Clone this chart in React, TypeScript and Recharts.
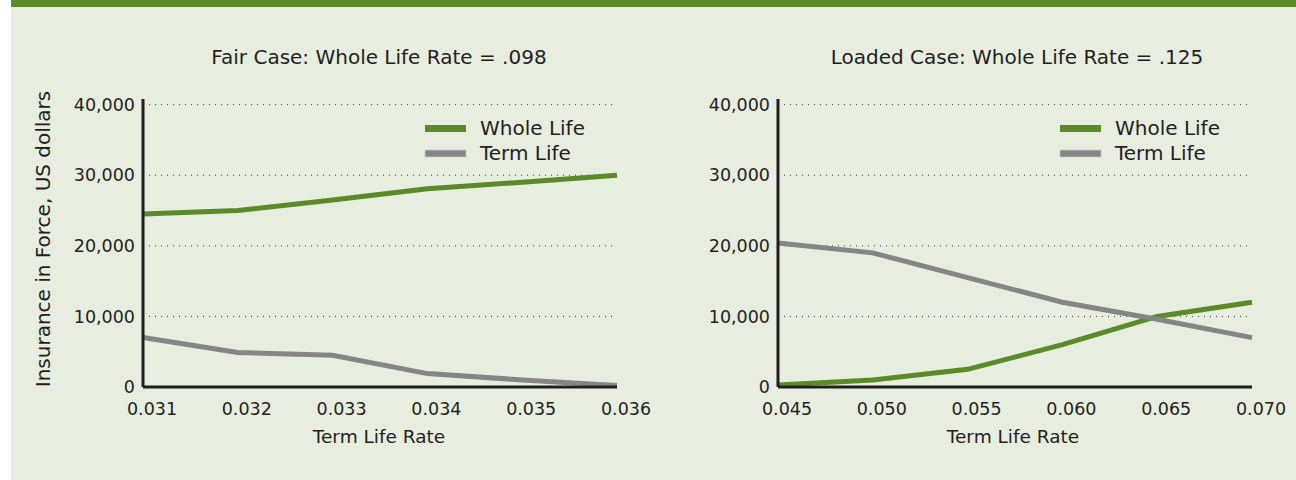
import { LineChart, Line, XAxis, YAxis, CartesianGrid, Legend } from "recharts";

const fairRates = ["0.031", "0.032", "0.033", "0.034", "0.035", "0.036"];
const fairWhole = [24500, 25000, 26500, 28100, 29000, 30000];
const fairTerm = [7000, 4900, 4500, 1900, 1000, 200];

const loadedRates = ["0.045", "0.050", "0.055", "0.060", "0.065", "0.070"];
const loadedWhole = [300, 1000, 2500, 6000, 10000, 12000];
const loadedTerm = [20400, 19000, 15500, 12000, 9600, 7000];

const yTicks = [0, 10000, 20000, 30000, 40000];
const legendOrder = ["whole", "term"];

const GREEN = "#5b8a28";
const GRAY = "#858585";
const INK = "#231f20";
const PANEL = "#e7eddf";
const FONT = "'DejaVu Sans', sans-serif";

const buildRows = (rates: string[], whole: number[], term: number[]) =>
  rates.map((rate, i) => ({ rate, whole: whole[i], term: term[i] }));

function LegendBox({ payload }: any) {
  const items = [...(payload || [])].sort(
    (a: any, b: any) => legendOrder.indexOf(a.dataKey) - legendOrder.indexOf(b.dataKey)
  );
  return (
    <svg width={200} height={55} style={{ display: "block", overflow: "visible" }}>
      {items.map((p: any, i: number) => (
        <g key={p.value}>
          <rect
            x={0}
            y={10 + i * 25}
            width={41}
            height={7}
            fill={p.color}
            stroke={p.dataKey === "term" ? "#c9c9c9" : "none"}
            strokeWidth={0.8}
          />
          <text x={55} y={19.5 + i * 25} fontSize={20} fill={INK} fontFamily={FONT}>
            {p.value}
          </text>
        </g>
      ))}
    </svg>
  );
}

interface PanelProps {
  rows: { rate: string; whole: number; term: number }[];
  left: number;
  width: number;
  yAxisWidth: number;
  marginRight: number;
  legendLeft: number;
}

function Panel({ rows, left, width, yAxisWidth, marginRight, legendLeft }: PanelProps) {
  return (
    <div style={{ position: "absolute", left, top: 0 }}>
      <LineChart
        width={width}
        height={480}
        data={rows}
        margin={{ top: 99, right: marginRight, bottom: 63, left: 0 }}
        style={{ overflow: "visible" }}
      >
        <CartesianGrid
          vertical={false}
          syncWithTicks
          stroke="#3a3a3a"
          strokeDasharray="1 5"
          strokeWidth={1}
        />
        <XAxis
          dataKey="rate"
          type="category"
          interval={0}
          height={30}
          tickSize={0}
          tickMargin={16}
          tickLine={false}
          axisLine={{ stroke: INK, strokeWidth: 3 }}
          tick={{ fill: INK, fontSize: 17.5, dx: 9 }}
        />
        <YAxis
          domain={[0, 40800]}
          ticks={yTicks}
          width={yAxisWidth}
          tickSize={0}
          tickMargin={8}
          tickLine={false}
          axisLine={{ stroke: INK, strokeWidth: 3 }}
          tick={{ fill: INK, fontSize: 17.5 }}
          tickFormatter={(v: number) => v.toLocaleString("en-US")}
        />
        <Legend
          layout="vertical"
          align="center"
          verticalAlign="middle"
          content={<LegendBox />}
          wrapperStyle={{ left: legendLeft, top: 115, width: 200, height: 55 }}
        />
        <Line
          type="linear"
          dataKey="whole"
          name="Whole Life"
          stroke={GREEN}
          strokeWidth={5}
          dot={false}
          activeDot={false}
          isAnimationActive={false}
        />
        <Line
          type="linear"
          dataKey="term"
          name="Term Life"
          stroke={GRAY}
          strokeWidth={5}
          dot={false}
          activeDot={false}
          isAnimationActive={false}
        />
      </LineChart>
    </div>
  );
}

export default function App() {
  const fairRows = buildRows(fairRates, fairWhole, fairTerm);
  const loadedRows = buildRows(loadedRates, loadedWhole, loadedTerm);

  return (
    <div
      style={{
        position: "absolute",
        left: 11,
        top: 0,
        width: 1285,
        height: 480,
        background: PANEL,
        fontFamily: FONT,
        overflow: "hidden",
      }}
    >
      <div style={{ position: "absolute", left: 0, top: 0, width: 1285, height: 7, background: GREEN }} />

      <Panel rows={fairRows} left={0} width={660} yAxisWidth={132} marginRight={54} legendLeft={414} />
      <Panel rows={loadedRows} left={639} width={645} yAxisWidth={128} marginRight={43} legendLeft={410} />

      <svg
        width={1285}
        height={480}
        style={{ position: "absolute", left: 0, top: 0, pointerEvents: "none" }}
      >
        <g fill={INK} fontFamily={FONT} textAnchor="middle">
          <text x={368} y={63.5} fontSize={20}>
            Fair Case: Whole Life Rate = .098
          </text>
          <text x={1006} y={63.5} fontSize={20}>
            Loaded Case: Whole Life Rate = .125
          </text>
          <text x={368} y={443} fontSize={18.5}>
            Term Life Rate
          </text>
          <text x={1002} y={443} fontSize={18.5}>
            Term Life Rate
          </text>
          <text x={39} y={239} fontSize={20} transform="rotate(-90 39 239)">
            Insurance in Force, US dollars
          </text>
        </g>
      </svg>
    </div>
  );
}
